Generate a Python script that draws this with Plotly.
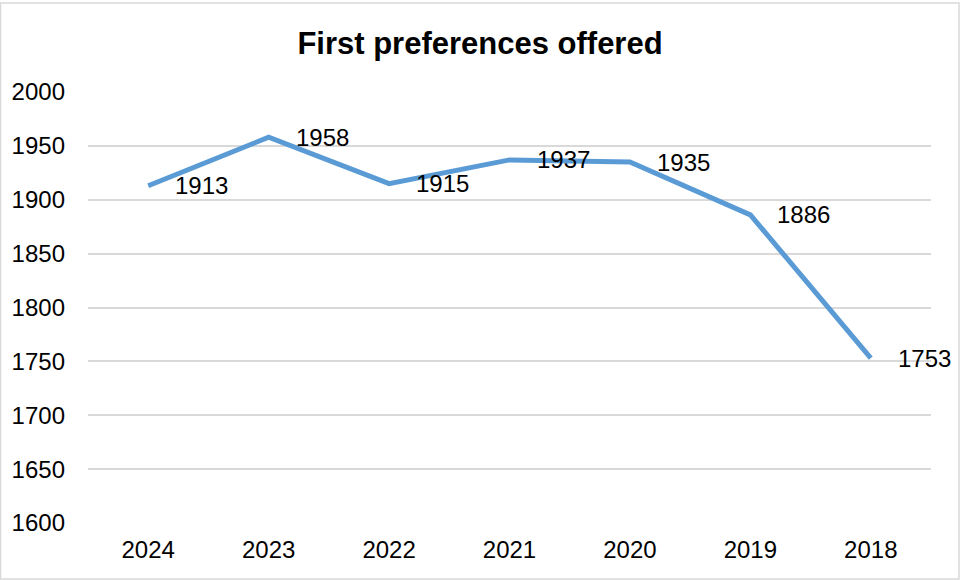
import plotly.graph_objects as go

years = ["2024", "2023", "2022", "2021", "2020", "2019", "2018"]
offered = [1913, 1958, 1915, 1937, 1935, 1886, 1753]
title_text = "First preferences offered"

FONT = "Liberation Sans, Arial"

fig = go.Figure()
fig.add_trace(go.Scatter(
    x=years, y=offered, mode="lines",
    line=dict(color="#5B9BD5", width=5),
    hoverinfo="x+y", showlegend=False,
))
# data labels: category index positions on the category axis
for i, v in enumerate(offered):
    fig.add_annotation(x=i, y=v, xref="x", yref="y", text=str(v), showarrow=False,
                       xanchor="left", yanchor="middle", xshift=25,
                       font=dict(family=FONT, size=24, color="#000000"))

fig.update_layout(
    width=960, height=580,
    margin=dict(l=88, r=29, t=92, b=57),
    paper_bgcolor="white", plot_bgcolor="white",
    title=dict(text="<b>" + title_text + "</b>", x=0.5, xanchor="center",
               y=1 - 43 / 580, yanchor="middle",
               font=dict(family=FONT, size=31, color="#000000")),
    font=dict(family=FONT, size=24, color="#000000"),
    xaxis=dict(type="category", categoryorder="array", categoryarray=years,
               range=[-0.5, len(years) - 0.5],
               showgrid=False, showline=False, ticks="",
               tickfont=dict(size=24), ticklabelstandoff=10),
    yaxis=dict(range=[1600, 2000], dtick=50, showgrid=True, gridcolor="#D9D9D9",
               gridwidth=1.5, zeroline=False, showline=False, ticks="",
               tickfont=dict(size=24), ticklabelstandoff=22),
)
fig.add_shape(type="rect", xref="paper", yref="paper",
              x0=-87.5 / 843, x1=1 + 28 / 843, y0=-56 / 431, y1=1 + 89 / 431,
              line=dict(color="#D9D9D9", width=1.5), fillcolor="rgba(0,0,0,0)")
fig.write_html("out.html", config={"displayModeBar": False},
               post_script="document.body.style.margin='0';document.body.style.overflow='hidden';")
